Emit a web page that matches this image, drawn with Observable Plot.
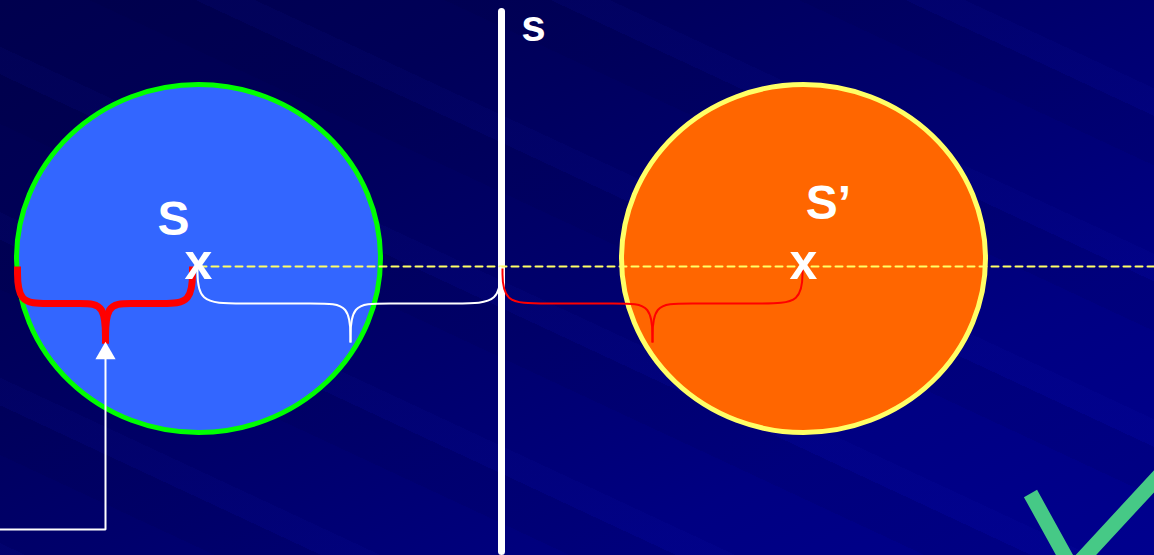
<!DOCTYPE html>
<html>
<head>
<meta charset="utf-8">
<script src="https://cdn.jsdelivr.net/npm/d3@7"></script>
<script src="https://cdn.jsdelivr.net/npm/@observablehq/plot@0.6"></script>
<style>
  html, body { margin: 0; padding: 0; width: 1154px; height: 555px; overflow: hidden; }
  body {
    background:
      repeating-linear-gradient(205deg, rgba(40,50,200,0) 0px, rgba(40,50,200,0) 80px, rgba(30,40,220,0.05) 80px, rgba(30,40,220,0.05) 105px, rgba(0,0,40,0.07) 105px, rgba(0,0,40,0.07) 150px),
      linear-gradient(150deg, #00004e 0%, #000058 25%, #00006c 50%, #000082 75%, #00008e 100%);
  }
  #chart svg { display: block; background: transparent; }
</style>
</head>
<body>
<div id="chart"></div>
<script>
// ---- data (diagram geometry in pixel units) ----
const discNames = ["object", "image"];
const discX = [198, 803];
const discY = [258, 258];
const discRx = [182, 182];
const discRy = [174, 174];

const labelText = ["S", "S’", "s"];
const labelX = [173, 828, 533];
const labelY = [234, 218, 40];
const labelSize = [48, 48, 44];

const markText = ["x", "x"];
const markX = [198, 803];
const markY = [278, 278];

const mirrorX = [501, 501];
const mirrorY = [11, 551];

const axisX = [199, 1154];
const axisY = [266, 266];

const braceNames = ["thick", "objectDist", "imageDist"];
const braceX0 = [17, 197, 502];
const braceX1 = [192, 500, 802];
const braceTip = [105, 350, 652];
const braceTop = [266, 266, 268];
const braceMid = [303, 303, 303];
const braceBottom = [343, 342, 342];
const braceRound = [30, 40, 40];

const arrowX = [0, 105, 105];
const arrowY = [529, 529, 356];
const arrowHeadX = [105];
const arrowHeadY = [353];

const checkX = [1030, 1072, 1170];
const checkY = [493, 569, 463];

// ---- build tables ----
const discs = discNames.map((n, i) => ({n, x: discX[i], y: discY[i], rx: discRx[i], ry: discRy[i], r: (discRx[i] + discRy[i]) / 2}));
const labels = labelText.map((t, i) => ({t, x: labelX[i], y: labelY[i], s: labelSize[i]}));
const marks = markText.map((t, i) => ({t, x: markX[i], y: markY[i]}));
const mirror = mirrorX.map((x, i) => ({x, y: mirrorY[i]}));
const axisLine = axisX.map((x, i) => ({x, y: axisY[i]}));
const arrow = arrowX.map((x, i) => ({x, y: arrowY[i]}));
const arrowHead = arrowHeadX.map((x, i) => ({x, y: arrowHeadY[i]}));
const check = checkX.map((x, i) => ({x, y: checkY[i]}));

const braces = [];
braceNames.forEach((n, i) => {
  const x0 = braceX0[i], x1 = braceX1[i], t = braceTip[i];
  const top = braceTop[i], mid = braceMid[i], bot = braceBottom[i], a = braceRound[i];
  const halves = [
    [[x0, top], [x0, mid], [x0 + a, mid], [t - a * 0.8, mid], [t, mid], [t, bot]],
    [[x1, top], [x1, mid], [x1 - a, mid], [t + a * 0.8, mid], [t, mid], [t, bot]]
  ];
  halves.forEach((h, k) => h.forEach(([x, y]) => braces.push({n, z: n + k, x, y})));
});

const discFill = {object: "#3366ff", image: "#ff6600"};
const discStroke = {object: "#00ff00", image: "#ffff66"};
const braceColor = {thick: "#ff0000", objectDist: "#ffffff", imageDist: "#ff0000"};
const braceWidth = {thick: 7, objectDist: 2, imageDist: 2};

const font = "'Liberation Sans', Arial, Helvetica, sans-serif";

// turn the round dots into ellipses (stretch each about its centre)
function ellipseRender(index, scales, values, dimensions, context, next) {
  const g = next(index, scales, values, dimensions, context);
  d3.select(g).selectAll("circle").each(function(_, j) {
    const d = discs[index[j]];
    const cx = scales.x(d.x), cy = scales.y(d.y);
    const el = d3.select(this);
    el.attr("transform", `translate(${cx},${cy}) scale(${d.rx / d.r},${d.ry / d.r}) translate(${-cx},${-cy})`);
    el.attr("vector-effect", "non-scaling-stroke");
  });
  return g;
}

const plot = Plot.plot({
  width: 1154,
  height: 555,
  margin: 0,
  x: {domain: [0, 1154], range: [0, 1154], axis: null},
  y: {domain: [0, 555], range: [0, 555], axis: null},
  r: {type: "identity"},
  style: {background: "transparent", overflow: "visible"},
  marks: [
    // discs
    Plot.dot(discs, {x: "x", y: "y", r: "r", fill: d => discFill[d.n], stroke: d => discStroke[d.n], strokeWidth: 5, render: ellipseRender}),
    // mirror line
    Plot.line(mirror, {x: "x", y: "y", stroke: "#ffffff", strokeWidth: 7}),
    // axis dashed
    Plot.line(axisLine, {x: "x", y: "y", stroke: "#ffff66", strokeWidth: 2, strokeDasharray: "7,5"}),
    // braces
    ...braceNames.map(n => Plot.line(braces.filter(d => d.n === n), {
      x: "x", y: "y", z: "z", curve: "basis",
      stroke: braceColor[n], strokeWidth: braceWidth[n], strokeLinecap: "butt"
    })),
    // arrow
    Plot.line(arrow, {x: "x", y: "y", stroke: "#ffffff", strokeWidth: 2, strokeLinejoin: "miter"}),
    Plot.dot(arrowHead, {x: "x", y: "y", symbol: "triangle", r: 7.5, fill: "#ffffff", stroke: "none"}),
    // check mark
    Plot.line(check, {x: "x", y: "y", stroke: "#46c986", strokeWidth: 15, strokeLinejoin: "miter", strokeLinecap: "butt"}),
    // labels
    ...labels.map(l => Plot.text([l], {x: "x", y: "y", text: "t", fill: "#ffffff", fontSize: l.s, fontWeight: "bold", fontFamily: font, lineAnchor: "bottom", textAnchor: "middle"})),
    Plot.text(marks, {x: "x", y: "y", text: "t", fill: "#ffffff", fontSize: 50, fontWeight: "bold", fontFamily: "'Liberation Sans Narrow', " + font, lineAnchor: "bottom", textAnchor: "middle"})
  ]
});
document.getElementById("chart").appendChild(plot);
</script>
</body>
</html>
